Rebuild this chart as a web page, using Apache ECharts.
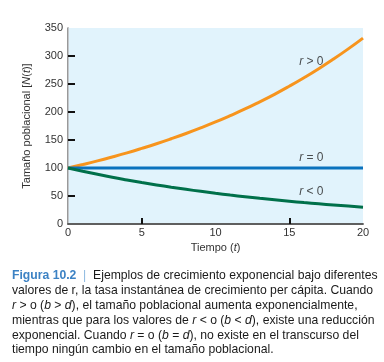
<!DOCTYPE html>
<html><head><meta charset="utf-8">
<script src="https://cdn.jsdelivr.net/npm/echarts@6/dist/echarts.min.js"></script>
<style>html,body{margin:0;padding:0;background:#fff}#c{width:384px;height:362px}</style>
</head><body><div id="c"></div>
<script>
const times = [0,1,2,3,4,5,6,7,8,9,10,11,12,13,14,15,16,17,18,19,20];
const growth = [100,106.2,112.7,119.7,127.1,135.0,143.3,152.2,161.6,171.6,182.2,193.5,205.4,218.2,231.6,246.0,261.2,277.3,294.5,312.7,332.0];
const stable = [100,100,100,100,100,100,100,100,100,100,100,100,100,100,100,100,100,100,100,100,100];
const decline = [100,94.2,88.7,83.5,78.7,74.1,69.8,65.7,61.9,58.3,54.9,51.7,48.7,45.8,43.2,40.7,38.3,36.1,34.0,32.0,30.1];
const yTicks = [0,50,100,150,200,250,300,350];
const xTicks = [0,5,10,15,20];
const curveLabels = [
  {t:16.5, v:290, op:' > 0'},
  {t:16.5, v:118, op:' = 0'},
  {t:16.5, v:57, op:' < 0'}
];
const captionLines = [
  [['fig','Figura 10.2'],['bar','  |  '],['n','Ejemplos de crecimiento exponencial bajo diferentes']],
  [['n','valores de r, la tasa instantánea de crecimiento per cápita. Cuando']],
  [['i','r'],['n',' > o ('],['i','b'],['n',' > '],['i','d'],['n','), el tamaño poblacional aumenta exponencialmente,']],
  [['n','mientras que para los valores de '],['i','r'],['n',' < o ('],['i','b'],['n',' < '],['i','d'],['n','), existe una reducción']],
  [['n','exponencial. Cuando '],['i','r'],['n',' = o ('],['i','b'],['n',' = '],['i','d'],['n','), no existe en el transcurso del']],
  [['n','tiempo ningún cambio en el tamaño poblacional.']]
];

const chart = echarts.init(document.getElementById('c'), null, {renderer:'canvas'});
const F = 'Liberation Sans, Arial, sans-serif';
const CF = 'Liberation Sans, Arial, sans-serif';
const CS = 12.2;
const mk = (arr)=>times.map((t,i)=>[t,arr[i]]);

const graphics = captionLines.map((line, li)=>({
  type:'text', left:12, top:270 + li*14.8,
  style:{
    text: line.map(([k,s])=>'{'+k+'|'+s+'}').join(''),
    rich:{
      fig:{fontFamily:CF, fontSize:CS, fontWeight:'bold', fill:'#3c82c4'},
      bar:{fontFamily:CF, fontSize:CS, fill:'#8cb8e0'},
      n:{fontFamily:CF, fontSize:CS, fill:'#1a1a1a'},
      i:{fontFamily:CF, fontSize:CS, fontStyle:'italic', fill:'#1a1a1a'}
    }
  }
}));

chart.setOption({
  animation:false,
  grid:{left:68, top:28, width:295, height:196, show:true, backgroundColor:'#e1f3fc', borderWidth:0},
  xAxis:[{
    type:'value', min:0, max:20, interval:5, position:'bottom',
    name:'Tiempo ({it|t})', nameLocation:'middle', nameGap:18,
    nameTextStyle:{fontFamily:F, fontSize:11, color:'#333',
      rich:{it:{fontFamily:F, fontSize:11, fontStyle:'italic', color:'#333'}}},
    axisLine:{lineStyle:{color:'#555', width:1.5}},
    axisTick:{show:true, inside:true, length:6, lineStyle:{color:'#111', width:2},
      customValues:[5,15]},
    axisLabel:{fontFamily:F, fontSize:11, color:'#333', margin:3,
      customValues:xTicks},
    splitLine:{show:false}
  },{
    type:'value', min:0, max:20, position:'top',
    axisLine:{show:true, lineStyle:{color:'#555', width:1.5}},
    axisTick:{show:false}, axisLabel:{show:false}, splitLine:{show:false}
  }],
  yAxis:[{
    type:'value', min:0, max:350, interval:50,
    name:'Tamaño poblacional [{it|N}({it|t})]', nameLocation:'middle', nameGap:36,
    nameTextStyle:{fontFamily:F, fontSize:11, color:'#333',
      rich:{it:{fontFamily:F, fontSize:11, fontStyle:'italic', color:'#333'}}},
    axisLine:{show:true, lineStyle:{color:'#777', width:1.5}},
    axisTick:{show:true, inside:true, length:7, lineStyle:{color:'#111', width:2},
      customValues:[50,100,150,200,250,300]},
    axisLabel:{fontFamily:F, fontSize:11, color:'#333', margin:5, customValues:yTicks},
    splitLine:{show:false}
  },{
    type:'value', min:0, max:350, position:'right',
    axisLine:{show:true, lineStyle:{color:'#c4c8cc', width:1}},
    axisTick:{show:false}, axisLabel:{show:false}, splitLine:{show:false}
  }],
  series:[
    {type:'line', data:mk(growth), showSymbol:false, smooth:true, lineStyle:{color:'#f7941d', width:3}},
    {type:'line', data:mk(stable), showSymbol:false, lineStyle:{color:'#0a72bd', width:3}},
    {type:'line', data:mk(decline), showSymbol:false, smooth:true, lineStyle:{color:'#00704a', width:3}},
    {type:'scatter', data:curveLabels.map(d=>[d.t,d.v]), symbolSize:0,
      label:{show:true, position:'inside', formatter:(p)=>'{i|r}{n|'+curveLabels[p.dataIndex].op+'}',
        rich:{i:{fontFamily:F, fontSize:12, fontStyle:'italic', color:'#222'},
              n:{fontFamily:F, fontSize:12, color:'#222'}}}, silent:true}
  ],
  graphic: graphics
});
</script></body></html>
